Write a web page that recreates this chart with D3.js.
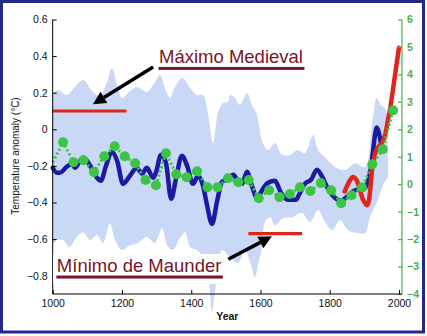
<!DOCTYPE html>
<html>
<head>
<meta charset="utf-8">
<script src="https://cdn.jsdelivr.net/npm/d3@7"></script>
<style>
  html, body { margin: 0; padding: 0; background: #fff; }
  svg { display: block; font-family: "Liberation Sans", Arial, Helvetica, sans-serif; }
</style>
</head>
<body>
<svg id="chart" width="427" height="336"></svg>
<script>
// ---- Data -----------------------------------------------------------------

// Smoothed temperature reconstruction (°C anomaly, left scale)
const reconYears = [1000,1012,1021,1041,1056,1064,1079,1088,1099,1113,1128,1139,1154,1171,1186,1203,1223,1243,1258,1272,
  1290,1298,1313,1327,1342,1356,1373,1388,1405,1420,1434,1446,1460,1475,1489,1506,1521,1535,1547,1561,
  1575,1590,1607,1622,1642,1659,1679,1702,1714,1728,1746,1763,1778,1795,1815,1832,1853,1867,1880,1895,
  1908,1918,1925,1930,1936,1942,1950];
const reconTemp = [-0.21,-0.237,-0.237,-0.204,-0.188,-0.21,-0.172,-0.155,-0.172,-0.215,-0.265,-0.281,-0.199,-0.122,-0.172,-0.298,-0.254,-0.21,-0.243,-0.21,
  -0.265,-0.237,-0.139,-0.183,-0.38,-0.27,-0.144,-0.199,-0.298,-0.254,-0.308,-0.418,-0.517,-0.39,-0.287,-0.27,-0.248,-0.281,-0.298,-0.232,
  -0.308,-0.374,-0.325,-0.292,-0.281,-0.347,-0.385,-0.385,-0.347,-0.298,-0.276,-0.221,-0.259,-0.325,-0.374,-0.39,-0.363,-0.34,-0.33,-0.33,
  -0.30,-0.22,-0.12,-0.04,0.01,-0.02,-0.10];

// Instrumental record (°C anomaly, left scale)
const instrYears = [1843,1850,1858,1867,1878,1887,1895,1901,1908,1913,1917,1921,1926,1930,1939,1950,1960,1968,1975,1982,1988,1994,2000];
const instrTemp = [-0.34,-0.31,-0.28,-0.26,-0.28,-0.33,-0.38,-0.40,-0.415,-0.39,-0.33,-0.24,-0.18,-0.14,-0.10,-0.075,-0.03,0.05,0.12,0.21,0.29,0.37,0.445];

// 30-year means (right scale); the series opens at the axis without a marker
const meanYears = [1000,1030,1060,1089,1119,1149,1179,1208,1238,1268,1298,1327,1357,1387,1417,1447,1476,1506,1536,1566,
  1595,1625,1655,1685,1714,1744,1774,1804,1833,1863,1893,1923,1953,1983];
const meanValues = [0.80,1.53,0.80,0.87,0.44,1.02,1.38,1.02,0.76,0.15,-0.04,1.13,0.36,0.25,0.47,-0.11,-0.11,0.22,0.07,0.15,
  -0.51,-0.22,-0.47,-0.36,-0.11,-0.25,0.04,-0.22,-0.69,-0.40,-0.11,0.73,1.27,2.69];

// Uncertainty envelope of the reconstruction (left scale)
const bandUpperYears = [1000,1015,1041,1064,1088,1116,1137,1157,1171,1186,1200,1217,1243,1272,1290,1310,1324,1339,1353,1373,
  1397,1417,1434,1449,1463,1478,1492,1506,1512,1527,1541,1561,1575,1590,1604,1622,1642,1662,1685,1706,
  1728,1752,1766,1786,1815,1844,1873,1902,1922,1936,1948,1959,1968];
const bandUpper = [0.198,0.215,0.187,0.231,0.269,0.204,0.187,0.258,0.335,0.242,0.171,0.198,0.231,0.204,0.242,0.297,0.226,0.171,0.231,0.280,
  0.226,0.187,0.187,0.078,-0.075,0.094,0.144,0.149,0.187,0.171,0.133,0.198,0.133,0.078,-0.059,-0.113,-0.075,-0.141,-0.141,-0.113,
  -0.130,-0.031,-0.113,-0.152,-0.206,-0.223,-0.185,-0.206,0.024,0.171,0.133,0.116,0.024];
const bandLowerYears = [1000,1012,1030,1049,1069,1088,1108,1128,1145,1165,1180,1200,1223,1246,1272,1295,1316,1330,1347,1367,
  1382,1397,1417,1434,1446,1454,1460,1469,1478,1489,1506,1535,1555,1570,1584,1593,1604,1613,1628,1642,
  1665,1691,1720,1743,1766,1786,1807,1830,1853,1882,1902,1916,1939,1954,1968];
const bandLower = [-0.633,-0.605,-0.605,-0.644,-0.589,-0.562,-0.605,-0.578,-0.622,-0.513,-0.605,-0.660,-0.633,-0.622,-0.589,-0.622,-0.540,-0.633,-0.660,-0.594,
  -0.562,-0.644,-0.660,-0.698,-0.770,-0.88,-1.0,-0.88,-0.77,-0.660,-0.687,-0.731,-0.660,-0.726,-0.808,-0.742,-0.644,-0.507,-0.480,-0.524,
  -0.485,-0.480,-0.458,-0.507,-0.441,-0.507,-0.551,-0.496,-0.551,-0.567,-0.567,-0.480,-0.387,-0.305,-0.261];

// Reference periods marked with a level bar
const periodLabels = ["Máximo Medieval", "Mínimo de Maunder"];
const periodFrom = [1000, 1565];
const periodTo = [1213, 1720];
const periodLevel = [0.1, -0.57];

// Tick values
const xTicks = [1000, 1200, 1400, 1600, 1800, 2000];
const leftTicks = [0.6, 0.4, 0.2, 0, -0.2, -0.4, -0.6, -0.8];
const rightTicks = [6, 5, 4, 3, 2, 1, 0, -1, -2, -3, -4];

// ---- Layout & scales ------------------------------------------------------

const svg = d3.select("#chart");
const W = 427, H = 336;
const plotLeft = 52.7, plotBottom = 294, plotTop = 19.5, rightAxisX = 402;

const x = d3.scaleLinear().domain([1000, 2000]).range([plotLeft, 399]);
const y = d3.scaleLinear().domain([-0.9, 0.6]).range([plotBottom, plotTop]);
const y2 = d3.scaleLinear().domain([-4, 6]).range([plotBottom, plotTop]);

const NAVY = "#1a1aa3", RED = "#e3241b", GREEN = "#3cc444", AXIS_GREEN = "#46b04c",
      BAND = "#c9d8f5", MAROON = "#7b1426";

svg.append("rect").attr("width", W).attr("height", H).attr("fill", "#fff");

// ---- Uncertainty band -----------------------------------------------------
const upperPts = bandUpperYears.map((yr, i) => [yr, bandUpper[i]]);
const lowerPts = bandLowerYears.map((yr, i) => [yr, bandLower[i]]).reverse();
const bandLine = d3.line().x(d => x(d[0])).y(d => y(d[1])).curve(d3.curveCatmullRom.alpha(0.5));
svg.append("path")
  .attr("d", bandLine(upperPts) + "L" + bandLine(lowerPts).slice(1) + "Z")
  .attr("fill", BAND);

// ---- Period level bars ----------------------------------------------------
svg.selectAll("line.period").data(periodLabels).join("line")
  .attr("class", "period")
  .attr("x1", (d, i) => x(periodFrom[i])).attr("x2", (d, i) => x(periodTo[i]))
  .attr("y1", (d, i) => y(periodLevel[i])).attr("y2", (d, i) => y(periodLevel[i]))
  .attr("stroke", RED).attr("stroke-width", 3.2);

// ---- Series ---------------------------------------------------------------
const tempLine = d3.line().x(d => x(d[0])).y(d => y(d[1])).curve(d3.curveMonotoneX);

svg.append("path")
  .attr("d", tempLine(reconYears.map((yr, i) => [yr, reconTemp[i]])))
  .attr("fill", "none").attr("stroke", NAVY).attr("stroke-width", 4.5)
  .attr("stroke-linejoin", "round").attr("stroke-linecap", "round");

svg.append("path")
  .attr("d", tempLine(instrYears.map((yr, i) => [yr, instrTemp[i]])))
  .attr("fill", "none").attr("stroke", RED).attr("stroke-width", 4.5)
  .attr("stroke-linejoin", "round").attr("stroke-linecap", "round");

const meanPts = meanYears.map((yr, i) => [yr, meanValues[i]]);
svg.append("path")
  .attr("d", d3.line().x(d => x(d[0])).y(d => y2(d[1]))(meanPts))
  .attr("fill", "none").attr("stroke", GREEN).attr("stroke-width", 3)
  .attr("stroke-dasharray", "2,2.4");

svg.selectAll("circle.mean").data(meanPts.slice(1)).join("circle")
  .attr("class", "mean")
  .attr("cx", d => x(d[0])).attr("cy", d => y2(d[1])).attr("r", 5)
  .attr("fill", GREEN);

// ---- Axes -----------------------------------------------------------------
const fmtLeft = d => d === 0 ? "0" : d3.format(".1f")(d);

const gLeft = svg.append("g").attr("transform", `translate(${plotLeft},0)`)
  .call(d3.axisLeft(y).tickValues(leftTicks).tickFormat(fmtLeft).tickSizeInner(-4).tickSizeOuter(0).tickPadding(5));
const gBottom = svg.append("g").attr("transform", `translate(0,${plotBottom})`)
  .call(d3.axisBottom(x).tickValues(xTicks).tickFormat(d3.format("d")).tickSizeInner(-4).tickSizeOuter(0).tickPadding(6));
const gRight = svg.append("g").attr("transform", `translate(${rightAxisX},0)`)
  .call(d3.axisRight(y2).tickValues(rightTicks).tickFormat(d3.format("d")).tickSizeInner(-4).tickSizeOuter(0).tickPadding(5));

[gLeft, gBottom, gRight].forEach(g => {
  g.select(".domain").remove();
  g.selectAll("text").attr("font-size", 10.5).attr("font-family", "Liberation Sans, Arial, sans-serif");
});
gLeft.selectAll("line").attr("stroke", "#000");
gLeft.selectAll("text").attr("fill", "#111");
gBottom.selectAll("line").attr("stroke", "#000");
gBottom.selectAll("text").attr("fill", "#111");
gRight.selectAll("line").attr("stroke", AXIS_GREEN).attr("stroke-width", 1.2);
gRight.selectAll("text").attr("fill", AXIS_GREEN).attr("font-weight", "bold");

svg.append("line").attr("x1", plotLeft).attr("x2", plotLeft)
  .attr("y1", plotTop).attr("y2", plotBottom).attr("stroke", "#000");
svg.append("line").attr("x1", plotLeft).attr("x2", rightAxisX)
  .attr("y1", plotBottom).attr("y2", plotBottom).attr("stroke", "#000");
svg.append("line").attr("x1", rightAxisX).attr("x2", rightAxisX)
  .attr("y1", plotTop).attr("y2", plotBottom).attr("stroke", AXIS_GREEN).attr("stroke-width", 1.2);

svg.append("text").attr("x", (plotLeft + rightAxisX) / 2).attr("y", 320)
  .attr("text-anchor", "middle").attr("font-size", 10.5).attr("font-weight", "bold").attr("fill", "#111")
  .text("Year");
svg.append("text").attr("transform", `translate(18.5,156) rotate(-90)`)
  .attr("text-anchor", "middle").attr("font-size", 10).attr("fill", "#111")
  .text("Temperature anomaly (°C)");

// ---- Annotations ----------------------------------------------------------
function arrow(from, to) {
  const x1 = x(from[0]), y1 = y(from[1]), x2 = x(to[0]), y2p = y(to[1]);
  const a = Math.atan2(y2p - y1, x2 - x1), L = 13, hw = 6.5;
  const bx = x2 - L * Math.cos(a), by = y2p - L * Math.sin(a);
  svg.append("line").attr("x1", x1).attr("y1", y1).attr("x2", bx).attr("y2", by)
    .attr("stroke", "#000").attr("stroke-width", 3.5);
  svg.append("path")
    .attr("d", `M${x2},${y2p}L${bx + hw * Math.sin(a)},${by - hw * Math.cos(a)}L${bx - hw * Math.sin(a)},${by + hw * Math.cos(a)}Z`)
    .attr("fill", "#000");
}

function label(text, at, boxed) {
  const g = svg.append("g");
  const bg = boxed ? g.append("rect").attr("fill", "#fff") : null;
  const t = g.append("text").attr("x", x(at[0])).attr("y", y(at[1]))
    .attr("font-size", 18.5).attr("fill", MAROON).text(text);
  const bb = t.node().getBBox();
  g.append("rect").attr("x", bb.x - 0.5).attr("width", bb.width + 2)
    .attr("y", y(at[1]) + 3.5).attr("height", 3).attr("fill", MAROON);
  if (bg) {
    bg.attr("x", plotLeft + 0.5).attr("width", bb.x + bb.width + 3 - plotLeft)
      .attr("y", bb.y - 1).attr("height", bb.height + 9);
  }
}

arrow([1290, 0.34], [1116, 0.137]);
label(periodLabels[0], [1307, 0.36], false);
label(periodLabels[1], [1012, -0.78], true);
arrow([1507, -0.71], [1633, -0.585]);

// ---- Frame ----------------------------------------------------------------
svg.append("rect").attr("x", 1.5).attr("y", 1.5).attr("width", 422).attr("height", 330.5)
  .attr("fill", "none").attr("stroke", "#232a86").attr("stroke-width", 3);
</script>
</body>
</html>
